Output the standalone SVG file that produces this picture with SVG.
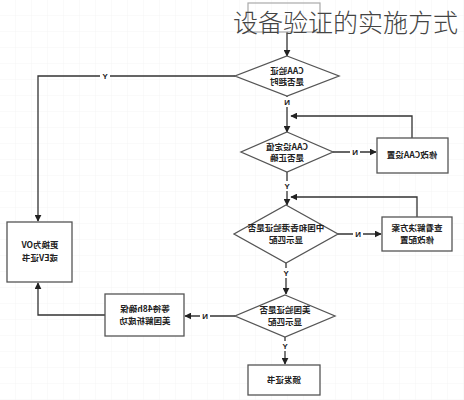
<svg xmlns="http://www.w3.org/2000/svg" width="464" height="400" viewBox="0 0 464 400">
<defs>
<pattern id="grid" width="16" height="16" patternUnits="userSpaceOnUse"><path d="M16 0V16H0" fill="none" stroke="#f2f2f2" stroke-width="0.8"/></pattern>
<marker id="ah" viewBox="0 0 10 10" refX="9" refY="5" markerWidth="7" markerHeight="7" orient="auto" markerUnits="userSpaceOnUse"><path d="M0 0L10 5L0 10z" fill="#222"/></marker>
</defs>
<style>
.sh{fill:#fff;stroke:#555;stroke-width:1.3}
.ln{fill:none;stroke:#333;stroke-width:1.3}
.t{font-family:"Noto Sans CJK SC","Noto Sans",sans-serif;font-size:8.5px;fill:#222;text-anchor:middle;font-weight:bold}
.lb{font-family:"Liberation Sans",sans-serif;font-size:8px;fill:#222;text-anchor:middle;font-weight:bold}
.bg{fill:#fff}
</style>
<rect width="464" height="400" fill="#fff"/>
<rect width="464" height="400" fill="url(#grid)"/>
<g id="connectors">
<path class="ln" d="M287 32V56" marker-end="url(#ah)"/>
<path class="ln" d="M235 76H38V221" marker-end="url(#ah)"/>
<path class="ln" d="M287 96V132" marker-end="url(#ah)"/>
<path class="ln" d="M412 138V116H291" marker-end="url(#ah)"/>
<path class="ln" d="M333 152H376" marker-end="url(#ah)"/>
<path class="ln" d="M287 172V205" marker-end="url(#ah)"/>
<path class="ln" d="M417 217V197H291" marker-end="url(#ah)"/>
<path class="ln" d="M338 234H381" marker-end="url(#ah)"/>
<path class="ln" d="M286 263V294" marker-end="url(#ah)"/>
<path class="ln" d="M235 316H185" marker-end="url(#ah)"/>
<path class="ln" d="M105 315H38V283" marker-end="url(#ah)"/>
<path class="ln" d="M285 337V364" marker-end="url(#ah)"/>
<rect class="bg" x="100" y="71" width="10" height="10"/>
<text class="lb" transform="translate(105,79) scale(-1,1)">Y</text>
<rect class="bg" x="282" y="97" width="10" height="10"/>
<text class="lb" transform="translate(287,105) scale(-1,1)">N</text>
<rect class="bg" x="350" y="147" width="10" height="10"/>
<text class="lb" transform="translate(355,155) scale(-1,1)">N</text>
<rect class="bg" x="282" y="181" width="10" height="10"/>
<text class="lb" transform="translate(287,189) scale(-1,1)">Y</text>
<rect class="bg" x="353" y="229" width="10" height="10"/>
<text class="lb" transform="translate(358,237) scale(-1,1)">N</text>
<rect class="bg" x="281" y="268" width="10" height="10"/>
<text class="lb" transform="translate(286,276) scale(-1,1)">Y</text>
<rect class="bg" x="200" y="311" width="10" height="10"/>
<text class="lb" transform="translate(205,319) scale(-1,1)">N</text>
<rect class="bg" x="280" y="341" width="10" height="10"/>
<text class="lb" transform="translate(285,349) scale(-1,1)">Y</text>
</g>
<g id="start"><rect x="248" y="3" width="72" height="29" fill="none" stroke="#aaa" stroke-width="1.2"/></g>
<g id="d1"><path class="sh" d="M287 56L339 76L287 96L235 76z"/>
<text class="t" transform="translate(287,74) scale(-1,1)">CAA验证</text>
<text class="t" transform="translate(287,85) scale(-1,1)">是否超时</text></g>
<g id="d2"><path class="sh" d="M287 132L333 152L287 172L241 152z"/>
<text class="t" transform="translate(287,150) scale(-1,1)">CAA设定值</text>
<text class="t" transform="translate(287,161) scale(-1,1)">是否正确</text></g>
<g id="b1"><rect class="sh" x="377" y="138" width="71" height="35"/>
<text class="t" transform="translate(412,158) scale(-1,1)">修改CAA设置</text></g>
<g id="d3"><path class="sh" d="M286 205L338 234L286 263L234 234z"/>
<text class="t" transform="translate(286,231) scale(-1,1)">中国和香港验证是否</text>
<text class="t" transform="translate(286,243) scale(-1,1)">显示匹配</text></g>
<g id="b2"><rect class="sh" x="382" y="217" width="70" height="34"/>
<text class="t" transform="translate(417,231) scale(-1,1)">查看解决方案</text>
<text class="t" transform="translate(417,243) scale(-1,1)">修改配置</text></g>
<g id="b3"><rect class="sh" x="7" y="222" width="65" height="60"/>
<text class="t" transform="translate(40,248) scale(-1,1)">更换为OV</text>
<text class="t" transform="translate(40,261) scale(-1,1)">或EV证书</text></g>
<g id="d4"><path class="sh" d="M285 295L335 316L285 337L235 316z"/>
<text class="t" transform="translate(285,313) scale(-1,1)">美国验证是否</text>
<text class="t" transform="translate(285,325) scale(-1,1)">显示匹配</text></g>
<g id="b4"><rect class="sh" x="105" y="294" width="79" height="42"/>
<text class="t" transform="translate(145,312) scale(-1,1)">等待48h确保</text>
<text class="t" transform="translate(145,324) scale(-1,1)">美国解析成功</text></g>
<g id="b5"><rect class="sh" x="248" y="365" width="72" height="30"/>
<text class="t" transform="translate(284,383) scale(-1,1)">颁发证书</text></g>
<text x="233" y="32" font-family="'Noto Sans CJK SC',sans-serif" font-size="25" font-weight="300" fill="#444">设备验证的实施方式</text>
</svg>
